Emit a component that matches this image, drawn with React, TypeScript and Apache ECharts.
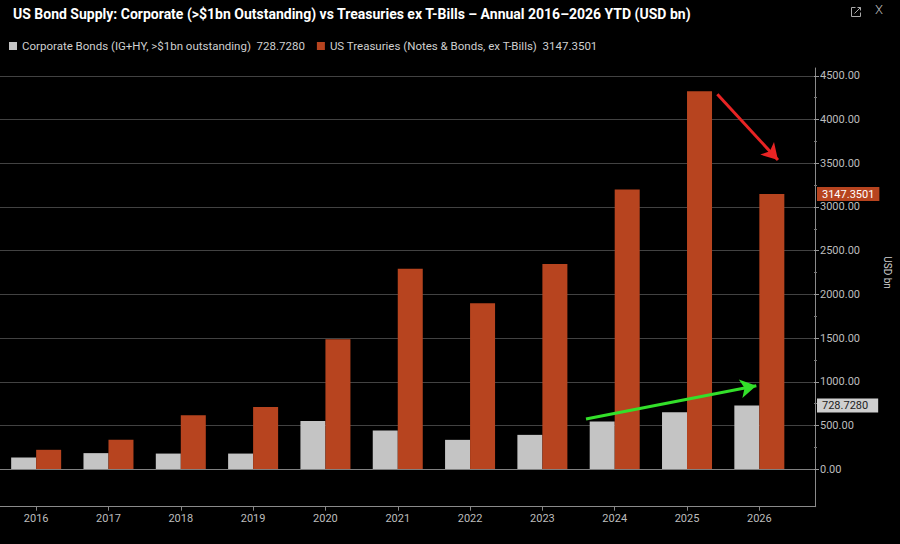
import React, { useEffect, useRef } from "react";
import * as echarts from "echarts";

const years = ["2016", "2017", "2018", "2019", "2020", "2021", "2022", "2023", "2024", "2025", "2026"];
const corporate = [133, 183, 178, 178, 552, 441, 335, 392, 545, 651, 728.728];
const treasuries = [221, 335, 617, 712, 1486, 2294, 1898, 2347, 3201, 4325, 3147.3501];
const corporateName = "Corporate Bonds (IG+HY, >$1bn outstanding)";
const treasuriesName = "US Treasuries (Notes & Bonds, ex T-Bills)";
const titleText = "US Bond Supply: Corporate (>$1bn Outstanding) vs Treasuries ex T-Bills \u2013 Annual 2016\u20132026 YTD (USD bn)";
// annotation arrows in data space [x position in category units, value]
const redArrow = [[9.44, 4291], [10.28, 3537]];
const greenArrow = [[7.62, 575], [9.98, 955]];

const FONT = "Roboto, 'Noto Sans', sans-serif";

export default function App() {
  const ref = useRef<HTMLDivElement>(null);
  useEffect(() => {
    document.body.style.margin = "0";
    document.body.style.background = "#000";
    const chart = echarts.init(ref.current!, null, { renderer: "svg" });
    const lastCorp = corporate[corporate.length - 1];
    const lastTsy = treasuries[treasuries.length - 1];
    const gA = { left: 0, width: 795.5, top: 68, height: 438.7 };
    const gB = { left: 0, width: 815.7, top: 68, height: 438.7 };
    const gC = { left: 0, width: 815.7, top: 75.9, height: 393.26 };
    const option: any = {
      animation: false,
      backgroundColor: "#000",
      textStyle: { fontFamily: FONT },
      title: {
        text: titleText,
        left: 8,
        top: 2,
        textStyle: { color: "#fff", fontSize: 14, fontWeight: "bold", fontFamily: FONT },
      },
      legend: {
        data: [corporateName, treasuriesName],
        left: 4,
        top: 35,
        icon: "rect",
        itemWidth: 8,
        itemHeight: 8,
        itemGap: 12,
        textStyle: { color: "#cfcfcf", fontSize: 11.5, fontFamily: FONT },
        formatter: (name: string) =>
          name === corporateName ? `${name}  ${lastCorp.toFixed(4)}` : `${name}  ${lastTsy.toFixed(4)}`,
      },
      grid: [gA, gB, gC],
      xAxis: [
        {
          type: "category",
          gridIndex: 0,
          data: years,
          axisLine: { show: false, onZero: false },
          axisTick: { show: true, alignWithLabel: true, length: 4, lineStyle: { color: "#888" } },
          axisLabel: { color: "#bdbdbd", fontSize: 11, margin: 6, fontFamily: FONT },
          splitLine: { show: false },
        },
        {
          type: "category",
          gridIndex: 1,
          data: years,
          axisLine: { show: true, onZero: false, lineStyle: { color: "#8a8a8a", width: 1 } },
          axisTick: { show: false },
          axisLabel: { show: false },
          splitLine: { show: false },
        },
        {
          type: "value",
          gridIndex: 2,
          min: -0.5,
          max: 815.7 / (795.5 / 11) - 0.5,
          show: false,
        },
      ],
      yAxis: [
        { type: "value", gridIndex: 0, min: -430, max: 4590, show: false },
        {
          type: "value",
          gridIndex: 1,
          min: -430,
          max: 4590,
          position: "right",
          axisLine: { show: true, onZero: false, lineStyle: { color: "#8a8a8a" } },
          axisTick: { show: false },
          axisLabel: { show: false },
          splitLine: { show: false },
        },
        {
          type: "value",
          gridIndex: 2,
          min: 0,
          max: 4500,
          interval: 500,
          position: "right",
          name: "USD bn",
          nameLocation: "middle",
          nameRotate: -90,
          nameGap: 68,
          nameTextStyle: { color: "#d0d0d0", fontSize: 10, fontFamily: FONT },
          axisLine: { show: false, onZero: false },
          axisTick: { show: true, length: 5, lineStyle: { color: "#999" } },
          minorTick: { show: true, splitNumber: 2, length: 3, lineStyle: { color: "#777" } },
          axisLabel: {
            color: "#bdbdbd",
            fontSize: 11,
            margin: 6,
            fontFamily: FONT,
            formatter: (v: number) => v.toFixed(2),
          },
          splitLine: { show: true, lineStyle: { color: "#424242", width: 1 } },
        },
      ],
      series: [
        {
          name: corporateName,
          type: "bar",
          xAxisIndex: 0,
          yAxisIndex: 0,
          data: corporate,
          barWidth: 25,
          barGap: "0%",
          itemStyle: { color: "#c4c4c4" },
        },
        {
          name: treasuriesName,
          type: "bar",
          xAxisIndex: 0,
          yAxisIndex: 0,
          data: treasuries,
          barWidth: 25,
          barGap: "0%",
          itemStyle: { color: "#b7441f" },
        },
        {
          type: "line",
          xAxisIndex: 2,
          yAxisIndex: 2,
          data: [],
          markLine: {
            silent: true,
            clip: false,
            symbol: ["none", "none"],
            data: [
              {
                yAxis: 0,
                lineStyle: { color: "#808080", width: 1, type: "solid" },
                label: { show: false },
              },
              {
                yAxis: lastTsy,
                lineStyle: { color: "rgba(0,0,0,0)", width: 0 },
                label: {
                  show: true,
                  position: "end",
                  distance: 3,
                  formatter: () => lastTsy.toFixed(4),
                  color: "#fff",
                  fontSize: 11,
                  fontFamily: FONT,
                  backgroundColor: "#b7441f",
                  padding: [2, 5, 1, 5],
                },
              },
              {
                yAxis: lastCorp,
                lineStyle: { color: "rgba(0,0,0,0)", width: 0 },
                label: {
                  show: true,
                  position: "end",
                  distance: 3,
                  formatter: () => lastCorp.toFixed(4),
                  color: "#222",
                  fontSize: 11,
                  fontFamily: FONT,
                  backgroundColor: "#cfcfcf",
                  padding: [2, 10, 1, 5],
                },
              },
              [
                { coord: redArrow[0], symbol: "none", lineStyle: { color: "#e82424", width: 3, type: "solid" }, label: { show: false } },
                { coord: redArrow[1], symbol: "arrow", symbolSize: [14, 16] },
              ],
              [
                { coord: greenArrow[0], symbol: "none", lineStyle: { color: "#33e02a", width: 3, type: "solid" }, label: { show: false } },
                { coord: greenArrow[1], symbol: "arrow", symbolSize: [14, 16] },
              ],
            ],
          },
        },
      ],
      graphic: [
        {
          type: "group",
          left: 849,
          top: 5,
          children: [
            { type: "polyline", shape: { points: [[4, 1], [0, 1], [0, 10], [9, 10], [9, 6]] }, style: { stroke: "#aaa", lineWidth: 1, fill: null } },
            { type: "line", shape: { x1: 3, y1: 7, x2: 9, y2: 1 }, style: { stroke: "#aaa", lineWidth: 1 } },
            { type: "polyline", shape: { points: [[6, 1], [9, 1], [9, 4]] }, style: { stroke: "#aaa", lineWidth: 1, fill: null } },
          ],
        },
        {
          type: "text",
          left: 875,
          top: 3,
          style: { text: "X", fill: "#bbb", fontSize: 13, fontFamily: FONT, fontWeight: 300 },
        },
      ],
    };
    chart.setOption(option);
    return () => chart.dispose();
  }, []);
  return <div ref={ref} style={{ width: 900, height: 544 }} />;
}
